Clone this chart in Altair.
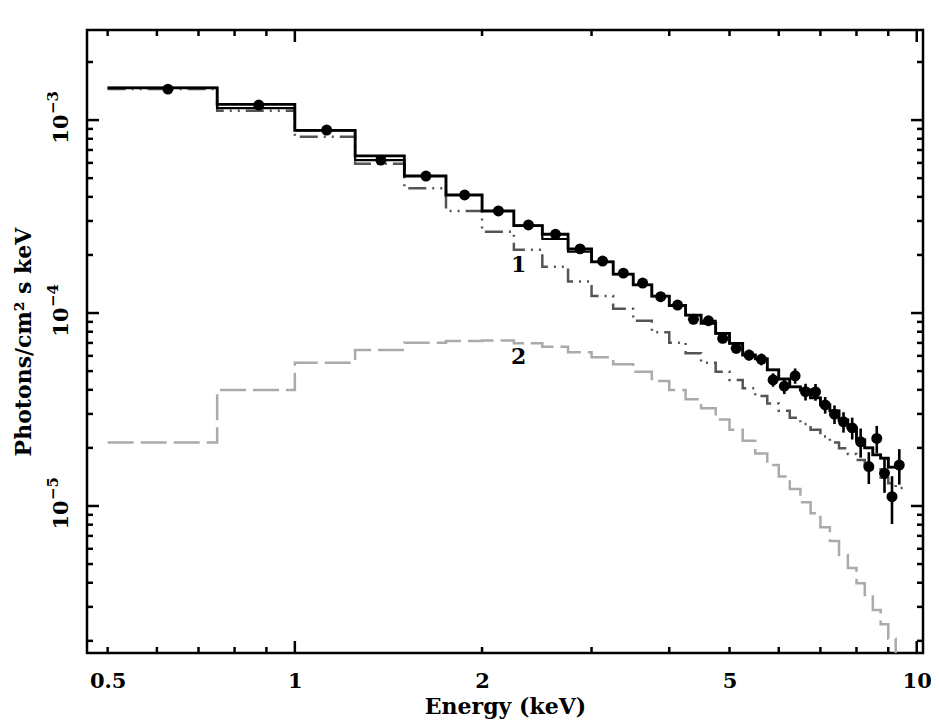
import altair as alt
import pandas as pd

# ---------------- data ----------------
bins_lo = [0.5, 0.75, 1.0, 1.25, 1.5, 1.75, 2.0, 2.25, 2.5, 2.75, 3.0, 3.25,
           3.5, 3.75, 4.0, 4.25, 4.5, 4.75, 5.0, 5.25, 5.5, 5.75, 6.0, 6.25,
           6.5, 6.75, 7.0, 7.25, 7.5, 7.75, 8.0, 8.25, 8.5, 8.75, 9.0, 9.25]
last_edge = 9.5
bin_half = 0.125

flux = [1.447e-3, 1.196e-3, 8.88e-4, 6.20e-4, 5.13e-4, 4.09e-4, 3.38e-4, 2.86e-4,
        2.56e-4, 2.15e-4, 1.86e-4, 1.61e-4, 1.43e-4, 1.215e-4, 1.10e-4, 9.28e-5,
        9.12e-5, 7.39e-5, 6.56e-5, 6.06e-5, 5.76e-5, 4.51e-5, 4.18e-5, 4.73e-5,
        3.91e-5, 3.90e-5, 3.34e-5, 2.99e-5, 2.73e-5, 2.54e-5, 2.15e-5, 1.60e-5,
        2.24e-5, 1.48e-5, 1.117e-5, 1.63e-5]
flux_err = [2.9e-5, 2.4e-5, 1.8e-5, 1.2e-5, 1.0e-5, 8e-6, 8e-6, 7e-6, 8e-6, 6e-6,
            6e-6, 6e-6, 5e-6, 5e-6, 5e-6, 4.6e-6, 4.6e-6, 4.1e-6, 3.9e-6, 3.9e-6,
            4.0e-6, 3.6e-6, 3.8e-6, 4.3e-6, 3.9e-6, 3.9e-6, 3.3e-6, 3.3e-6, 3.3e-6,
            3.3e-6, 3.7e-6, 3.0e-6, 3.6e-6, 3.1e-6, 3.1e-6, 3.4e-6]
model_a = [1.470e-3, 1.206e-3, 8.84e-4, 6.53e-4, 5.13e-4, 4.09e-4, 3.38e-4, 2.84e-4,
           2.56e-4, 2.15e-4, 1.84e-4, 1.59e-4, 1.40e-4, 1.225e-4, 1.094e-4, 9.76e-5,
           8.84e-5, 7.85e-5, 6.97e-5, 6.06e-5, 5.78e-5, 5.07e-5, 4.55e-5, 4.14e-5,
           3.99e-5, 3.63e-5, 3.34e-5, 3.11e-5, 2.79e-5, 2.54e-5, 2.20e-5, 2.00e-5,
           1.84e-5, 1.77e-5, 1.59e-5, 1.59e-5]
model_b = [1.470e-3, 1.154e-3, 8.84e-4, 6.20e-4, 5.13e-4, 4.09e-4, 3.38e-4, 2.84e-4,
           2.42e-4, 2.08e-4, 1.84e-4, 1.59e-4, 1.40e-4, 1.225e-4, 1.094e-4, 9.76e-5,
           9.12e-5, 7.85e-5, 6.97e-5, 6.06e-5, 5.78e-5, 5.07e-5, 4.55e-5, 4.14e-5,
           3.99e-5, 3.63e-5, 3.34e-5, 3.11e-5, 2.79e-5, 2.54e-5, 2.20e-5, 2.00e-5,
           1.84e-5, 1.77e-5, 1.59e-5, 1.59e-5]
comp1 = [1.45e-3, 1.117e-3, 8.19e-4, 5.94e-4, 4.43e-4, 3.38e-4, 2.64e-4, 2.13e-4,
         1.738e-4, 1.456e-4, 1.225e-4, 1.053e-4, 9.12e-5, 7.94e-5, 7.02e-5, 6.18e-5,
         5.53e-5, 4.96e-5, 4.50e-5, 4.07e-5, 3.71e-5, 3.40e-5, 3.12e-5, 2.87e-5,
         2.66e-5, 2.48e-5, 2.29e-5, 2.13e-5, 1.99e-5, 1.86e-5, 1.73e-5, 1.63e-5,
         1.55e-5, 1.40e-5, 1.31e-5, 1.24e-5]
comp2 = [2.13e-5, 3.99e-5, 5.53e-5, 6.43e-5, 7.02e-5, 7.16e-5, 7.20e-5, 6.97e-5,
         6.69e-5, 6.26e-5, 5.90e-5, 5.42e-5, 4.96e-5, 4.44e-5, 3.99e-5, 3.57e-5,
         3.21e-5, 2.81e-5, 2.48e-5, 2.18e-5, 1.87e-5, 1.63e-5, 1.42e-5, 1.225e-5,
         1.045e-5, 9.17e-6, 7.76e-6, 6.59e-6, 5.57e-6, 4.77e-6, 3.98e-6, 3.46e-6,
         2.89e-6, 2.44e-6, 2.05e-6, 1.59e-6]

labels_txt = ["1", "2"]
labels_E = [2.29, 2.29]
labels_F = [1.77e-4, 5.92e-5]

x_major = [1, 10]
x_minor = [0.5, 0.6, 0.7, 0.8, 0.9, 2, 3, 4, 5, 6, 7, 8, 9]
y_major = [1e-3, 1e-4, 1e-5]
y_exponents = ["−3", "−4", "−5"]
y_minor = [2e-6, 3e-6, 4e-6, 5e-6, 6e-6, 7e-6, 8e-6, 9e-6,
           2e-5, 3e-5, 4e-5, 5e-5, 6e-5, 7e-5, 8e-5, 9e-5,
           2e-4, 3e-4, 4e-4, 5e-4, 6e-4, 7e-4, 8e-4, 9e-4, 2e-3]
x_labels = [0.5, 1, 2, 5, 10]

x_domain = [0.4632, 10.235]
y_domain = [1.73e-6, 2.93e-3]

W, H = 836, 623
FONT = "DejaVu Serif"
FS = 22
FS_TICK = 21

# ---------------- tables ----------------
def steps(values):
    return pd.DataFrame({"E": bins_lo + [last_edge], "F": values + [values[-1]]})

pts = pd.DataFrame({
    "E": [b + bin_half for b in bins_lo],
    "F": flux,
    "lo": [f - e for f, e in zip(flux, flux_err)],
    "hi": [f + e for f, e in zip(flux, flux_err)],
})

xscale = alt.Scale(type="log", domain=x_domain, nice=False, zero=False)
yscale = alt.Scale(type="log", domain=y_domain, nice=False, zero=False)

xaxis = alt.Axis(values=x_labels, ticks=False, domain=False, grid=False,
                 labelExpr="format(datum.value, '~g')", labelPadding=17,
                 labelFontSize=FS_TICK, labelFont=FONT, labelFontWeight="bold",
                 labelColor="black", title="Energy (keV)", titleFontSize=FS,
                 titleFont=FONT, titleFontWeight="bold", titlePadding=5,
                 titleColor="black", labelFlush=False, labelOverlap=False)
yaxis = alt.Axis(values=y_major, ticks=False, domain=False, grid=False,
                 labels=False,
                 title="Photons/cm² s keV", titleFontSize=FS, titleFont=FONT,
                 titleFontWeight="bold", titlePadding=52, titleColor="black")


def X(field):
    return alt.X(field, type="quantitative", scale=xscale, axis=xaxis)


def Y(field):
    return alt.Y(field, type="quantitative", scale=yscale, axis=yaxis)


def step_layer(values, color, width, dash=None):
    kw = dict(interpolate="step-after", color=color, strokeWidth=width, clip=True)
    if dash is not None:
        kw["strokeDash"] = dash
    return alt.Chart(steps(values)).mark_line(**kw).encode(x=X("E"), y=Y("F"))


l_comp2 = step_layer(comp2, "#aaaaaa", 2.5, [26, 7])
l_comp1 = step_layer(comp1, "#555555", 2.5, [18, 6, 2, 6, 2, 6])
l_ma = step_layer(model_a, "black", 2.8)
l_mb = step_layer(model_b, "black", 2.2)

err = alt.Chart(pts).mark_rule(color="black", strokeWidth=2.6).encode(
    x=X("E"), y=Y("lo"), y2="hi")
dots = alt.Chart(pts).mark_point(filled=True, shape="circle", size=120,
                                 color="black", opacity=1).encode(x=X("E"), y=Y("F"))

lab = alt.Chart(pd.DataFrame({"E": labels_E, "F": labels_F, "t": labels_txt})).mark_text(
    font=FONT, fontSize=FS, fontWeight="bold", color="black",
    align="center", baseline="middle").encode(x=X("E"), y=Y("F"), text="t:N")

# rotated y tick labels: "10" with a raised exponent
ylab_df = pd.DataFrame({"v": y_major, "base": ["10"] * len(y_major), "ex": y_exponents})
ylab_base = alt.Chart(ylab_df).mark_text(
    font=FONT, fontSize=FS_TICK, fontWeight="bold", color="black", angle=270,
    align="center", baseline="bottom", dx=-9).encode(
    y=Y("v"), x=alt.value(-15), text="base:N")
ylab_exp = alt.Chart(ylab_df).mark_text(
    font=FONT, fontSize=15, fontWeight="bold", color="black", angle=270,
    align="left", baseline="bottom", dx=6, dy=-11).encode(
    y=Y("v"), x=alt.value(-15), text="ex:N")


def xticks(vals, length):
    df = pd.DataFrame({"v": vals})
    bot = alt.Chart(df).mark_rule(color="black", strokeWidth=2.5).encode(
        x=X("v"), y=alt.value(H), y2=alt.value(H - length))
    top = alt.Chart(df).mark_rule(color="black", strokeWidth=2.5).encode(
        x=X("v"), y=alt.value(0), y2=alt.value(length))
    return [bot, top]


def yticks(vals, length):
    df = pd.DataFrame({"v": vals})
    left = alt.Chart(df).mark_rule(color="black", strokeWidth=2.5).encode(
        y=Y("v"), x=alt.value(0), x2=alt.value(length))
    right = alt.Chart(df).mark_rule(color="black", strokeWidth=2.5).encode(
        y=Y("v"), x=alt.value(W), x2=alt.value(W - length))
    return [left, right]


layers = [l_comp2, l_comp1, l_mb, l_ma, err, dots, lab, ylab_base, ylab_exp]
layers += xticks(x_major, 12) + xticks(x_minor, 6)
layers += yticks(y_major, 12) + yticks(y_minor, 6)

chart = alt.layer(*layers).properties(
    width=W, height=H,
    autosize=alt.AutoSizeParams(type="none"),
    padding={"left": 79, "top": 22, "right": 8, "bottom": 67},
).configure(
    background="white",
    view=alt.ViewConfig(stroke="black", strokeWidth=2.5),
)

chart.save("out.html", embed_options={"renderer": "svg", "actions": False})
